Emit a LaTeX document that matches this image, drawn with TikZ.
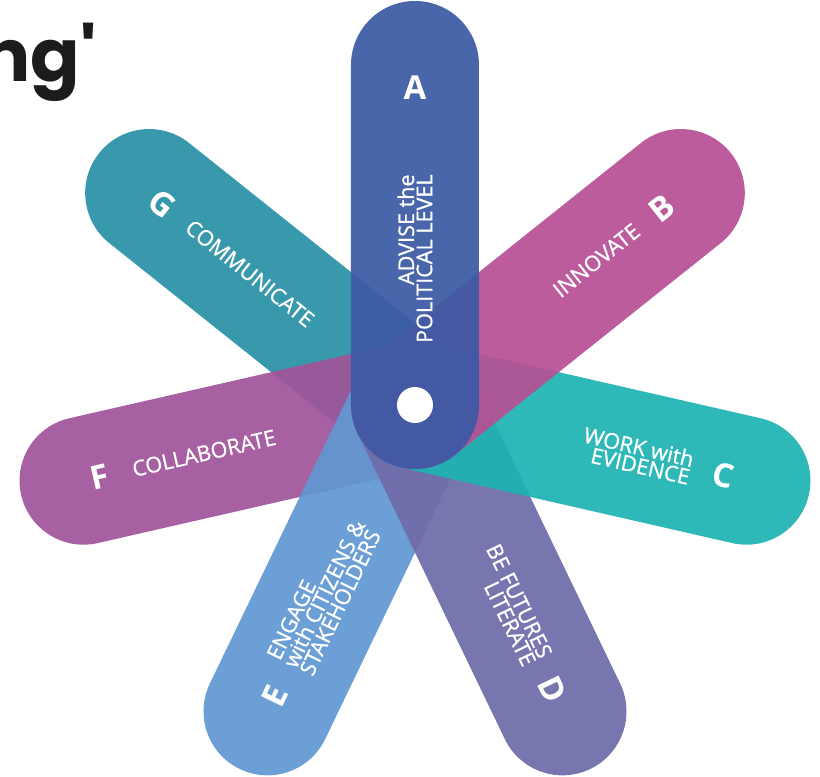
\documentclass[tikz,border=0pt]{standalone}
\usepackage{fontspec}
\setmainfont{Open Sans}
\newfontfamily\tagfont{Open Sans}[FakeBold=0.9]
\newfontfamily\titlefont{Poppins}[Ligatures=TeXOff]

\definecolor{colA}{HTML}{3C5AA4}
\definecolor{colB}{HTML}{B75094}
\definecolor{colC}{HTML}{1FB3B3}
\definecolor{colD}{HTML}{6E6CA9}
\definecolor{colE}{HTML}{6198D2}
\definecolor{colF}{HTML}{A0549A}
\definecolor{colG}{HTML}{2991A6}
\definecolor{titlegrey}{HTML}{1C1C1C}

\begin{document}
\begin{tikzpicture}[x=0.5pt,y=0.5pt,
    petal/.style={fill opacity=0.93},
    tagtext/.style={text=white,inner sep=0pt,font=\tagfont\fontsize{10.8}{9.1}\selectfont},
    tagletter/.style={text=white,inner sep=0pt,font=\bfseries\fontsize{16.5}{18}\selectfont}]
    \useasboundingbox (-415,-372) rectangle (405,405);
    \clip (-415,-372) rectangle (405,405);

    % Heading, cut off at the left
    \node[anchor=base east,inner sep=0pt,text=titlegrey,
          font=\titlefont\bfseries\fontsize{36.5}{40}\selectfont] (title) at (-318,323) {ng'};

    % Petals, from G round to B
    \foreach \ang/\col in {141.43/colG,-167.14/colF,-115.71/colE,-64.29/colD,-12.86/colC,38.57/colB}
      {
        \fill[petal,\col,rotate=\ang] (0,64) arc (90:270:64) -- (340,-64) arc (-90:90:64) -- cycle;
      }
    % Petal A on top
    \fill[petal,colA,rotate=90] (0,64) arc (90:270:64) -- (340,-64) arc (-90:90:64) -- cycle;
    \fill[white] (0,0) circle (18);

    % Texts of A
    \node[tagtext,rotate=90,anchor=east,align=right] (txtA) at (90:231) {ADVISE the\\POLITICAL LEVEL};
    \node[tagletter] (letA) at (90:317) {A};

    % Texts on the right, read outwards
    \foreach \x/\ang/\txt in {B/38.57/{INNOVATE},C/-12.86/{WORK with\\EVIDENCE},D/-64.29/{BE FUTURES\\LITERATE}}
      {
        \node[tagtext,rotate=\ang,anchor=east,align=right] (txt\x) at (\ang:284) {\txt};
        \node[tagletter,rotate=\ang] (let\x) at (\ang:316) {\x};
      }

    % Texts on the left, read inwards
    \foreach \x/\ang/\txt in {E/-115.71/{ENGAGE\\with CITIZENS \&\\STAKEHOLDERS},F/-167.14/{COLLABORATE},G/141.43/{COMMUNICATE}}
      {
        \node[tagtext,rotate=\ang+180,anchor=west,align=left] (txt\x) at (\ang:290) {\txt};
        \node[tagletter,rotate=\ang+180] (let\x) at (\ang:323) {\x};
      }
\end{tikzpicture}
\end{document}
